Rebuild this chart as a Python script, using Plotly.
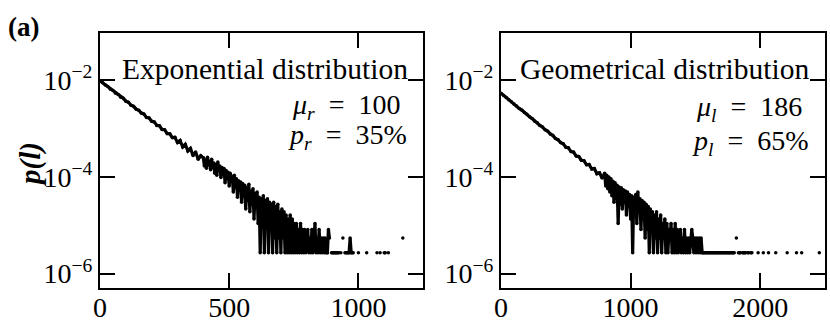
import plotly.graph_objects as go

# ---------------- data (counts per length bin) ----------------
N_SAMPLES = 370000

# left panel: exponential distribution
left_len_head = list(range(0, 400, 10))
left_count_head = [3620, 3300, 2950, 2760, 2430, 2280, 2010, 1880, 1660, 1570,
                   1370, 1300, 1130, 1070, 935, 890, 775, 740, 632, 615,
                   525, 510, 432, 425, 356, 352, 292, 290, 242, 244,
                   190, 210, 154, 174, 128, 144, 103, 121, 86, 101]
left_len_mid = list(range(400, 880, 4))
left_count_mid = [92, 62, 84, 56, 95, 66, 78, 52, 86, 58,
                  72, 44, 68, 40, 75, 50, 62, 36, 58, 42,
                  55, 28, 50, 34, 46, 24, 44, 30, 38, 18,
                  40, 22, 34, 14, 31, 20, 29, 11, 27, 15,
                  25, 8, 22, 12, 26, 7, 19, 10, 21, 5,
                  17, 9, 18, 4, 14, 1, 13, 6, 15, 1,
                  12, 4, 13, 1, 11, 3, 10, 1, 11, 2,
                  9, 1, 10, 2, 7, 1, 8, 2, 7, 1,
                  6, 1, 5, 1, 6, 1, 5, 1, 4, 1,
                  4, 1, 3, 1, 4, 1, 3, 1, 3, 1,
                  2, 3, 1, 2, 1, 3, 1, 2, 4, 1,
                  2, 1, 3, 1, 2, 1, 2, 1, 2, 1]
left_len_tail = list(range(880, 1200, 4))
left_count_tail = [1, 3, 2, 0, 1, 1, 1, 1, 1, 1,
                   1, 1, 0, 1, 0, 2, 0, 1, 1, 1,
                   1, 1, 2, 1, 1, 1, 0, 0, 0, 0,
                   1, 0, 0, 0, 0, 0, 0, 0, 1, 0,
                   0, 0, 0, 0, 0, 0, 0, 0,
                   1, 0, 0, 1, 0, 0, 0, 1, 1, 0, 0, 1,
                   0, 0, 0, 0, 0, 0, 0, 0, 0, 0, 0, 0, 0,
                   2,
                   0, 0, 0, 0, 0, 0]

# right panel: geometrical distribution
right_len_head = list(range(0, 800, 20))
right_count_head = [2010, 1800, 1640, 1470, 1340, 1190, 1090, 970, 895, 795,
                    730, 650, 598, 528, 488, 432, 400, 350, 328, 286,
                    268, 232, 218, 190, 180, 153, 148, 124, 121, 100,
                    98, 82, 80, 66, 67, 54, 55, 43, 45, 35]
right_len_mid = list(range(800, 1560, 8))
right_count_mid = [44, 24, 40, 21, 37, 18, 34, 15, 30, 11,
                   28, 13, 25, 4, 23, 10, 22, 8, 20, 11,
                   19, 6, 18, 9, 16, 5, 15, 1, 14, 6,
                   16, 4, 18, 7, 13, 3, 12, 5, 11, 2,
                   10, 3, 9, 1, 8, 3, 7, 1, 6, 2,
                   7, 1, 5, 2, 6, 1, 4, 2, 5, 1,
                   4, 1, 3, 2, 4, 1, 3, 1, 4, 1,
                   3, 1, 2, 3, 1, 2, 1, 3, 1, 2,
                   1, 2, 1, 2, 3, 2, 1, 2, 1, 2,
                   1, 2, 1, 2, 1]
right_len_tail = list(range(1560, 2500, 8))
right_count_tail = [1, 1, 1, 1, 1, 1, 1, 1, 1, 1,
                    1, 1, 1, 1, 1, 1, 1, 1, 1, 1,
                    1, 1, 1, 1, 1, 1, 1, 1, 1, 1,
                    1, 0, 2, 0, 1, 1, 1, 0, 1, 1,
                    1, 1, 0, 1, 1, 0, 1, 1, 0, 0,
                    0, 0, 0, 1, 0, 0, 0, 0, 1, 0,
                    0, 0, 0, 1, 0, 0, 0, 0, 0, 0,
                    1, 0, 0, 0, 0, 0, 0, 0, 0, 0,
                    0, 1, 0, 0, 0, 0, 0, 0, 0, 0,
                    1, 0, 0, 0, 0, 1, 0, 0, 0, 0,
                    0, 0, 0, 0, 0, 0, 0, 0, 0, 0,
                    0, 0, 1, 0, 0, 0, 0, 0]

x_ticks_left = [0, 500, 1000]
x_ticks_right = [0, 1000, 2000]
y_ticks = [1e-6, 1e-4, 1e-2]
y_ticktext = ["10<sup>\u22126</sup>", "10<sup>\u22124</sup>", "10<sup>\u22122</sup>"]

left_title = "Exponential distribution"
right_title = "Geometrical distribution"
EQ = "\u2002=\u2002"
left_params = ["<i>\u03bc</i><sub><i>r</i></sub>" + EQ + "100", "<i>p</i><sub><i>r</i></sub>" + EQ + "35%"]
right_params = ["<i>\u03bc</i><sub><i>l</i></sub>" + EQ + "186", "<i>p</i><sub><i>l</i></sub>" + EQ + "65%"]


def to_prob(counts):
    return [c / N_SAMPLES if c > 0 else None for c in counts]


left_x = left_len_head + left_len_mid + left_len_tail
left_p = to_prob(left_count_head + left_count_mid + left_count_tail)
right_x = right_len_head + right_len_mid + right_len_tail
right_p = to_prob(right_count_head + right_count_mid + right_count_tail)

W, H = 830, 321
SERIF = "Liberation Serif, Times New Roman, serif"


def px(x):
    return x / W


def py(y):
    return 1 - y / H


fig = go.Figure()
for xs, ys, xa, ya in [(left_x, left_p, "x", "y"), (right_x, right_p, "x2", "y2")]:
    fig.add_trace(go.Scatter(
        x=xs, y=ys, mode="lines+markers", connectgaps=False,
        line=dict(color="black", width=3.2),
        marker=dict(color="black", size=3.5),
        xaxis=xa, yaxis=ya, showlegend=False, hoverinfo="skip"))

axis_common = dict(showline=True, linecolor="black", linewidth=2, mirror="ticks",
                   ticks="inside", ticklen=15, tickwidth=1.5, tickcolor="black",
                   showgrid=False, zeroline=False, automargin=False,
                   tickfont=dict(family=SERIF, size=28, color="black"))
xaxis_extra = dict(ticklabelstandoff=-7)

ydom = [py(288), py(33)]
fig.update_layout(
    width=W, height=H, margin=dict(l=0, r=0, t=0, b=0),
    paper_bgcolor="white", plot_bgcolor="white",
    xaxis=dict(domain=[px(100), px(423)], range=[0, 1250], anchor="y",
               tickvals=x_ticks_left, ticktext=[str(v) for v in x_ticks_left],
               **axis_common, **xaxis_extra),
    yaxis=dict(domain=ydom, type="log", range=[-6.3, -1.02], anchor="x",
               tickvals=y_ticks, ticktext=y_ticktext, **axis_common),
    xaxis2=dict(domain=[px(501), px(825)], range=[0, 2500], anchor="y2",
                tickvals=x_ticks_right, ticktext=[str(v) for v in x_ticks_right],
                **axis_common, **xaxis_extra),
    yaxis2=dict(domain=ydom, type="log", range=[-6.3, -1.02], anchor="x2",
                tickvals=y_ticks, ticktext=y_ticktext, **axis_common),
)

ann_font = dict(family=SERIF, size=29.5, color="black")
par_font = dict(family=SERIF, size=28, color="black")
annotations = [
    dict(text="<b>(a)</b>", x=px(6), y=py(27), xanchor="left", yanchor="middle",
         font=dict(family=SERIF, size=27, color="black")),
    dict(text="<b><i>p(l)</i></b>", x=px(31), y=py(165), xanchor="center", yanchor="middle",
         textangle=-90, font=dict(family=SERIF, size=29, color="black")),
    dict(text=left_title, x=px(265), y=py(69), xanchor="center", yanchor="middle", font=ann_font),
    dict(text=left_params[0], x=px(403), y=py(107), xanchor="right", yanchor="middle", font=par_font),
    dict(text=left_params[1], x=px(409), y=py(137), xanchor="right", yanchor="middle", font=par_font),
    dict(text=right_title, x=px(664), y=py(69), xanchor="center", yanchor="middle", font=ann_font),
    dict(text=right_params[0], x=px(804), y=py(108), xanchor="right", yanchor="middle", font=par_font),
    dict(text=right_params[1], x=px(811), y=py(142), xanchor="right", yanchor="middle", font=par_font),
]
for a in annotations:
    a.update(xref="paper", yref="paper", showarrow=False)
fig.update_layout(annotations=annotations)

fig.write_html("out.html", config={"displayModeBar": False},
               post_script="document.body.style.margin='0';")
